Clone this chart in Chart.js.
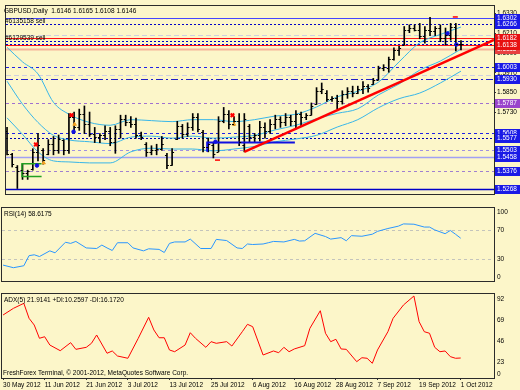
<!DOCTYPE html>
<html>
<head>
<meta charset="utf-8">
<script src="https://cdn.jsdelivr.net/npm/chart.js@4.4.0/dist/chart.umd.min.js"></script>
<style>
html, body { margin: 0; padding: 0; background: #fcf6c9; }
#wrap { position: relative; width: 520px; height: 390px; overflow: hidden; background: #fcf6c9; }
canvas { position: absolute; left: 0; }
</style>
</head>
<body>
<div id="wrap">
  <canvas id="price" width="520" height="208" style="top:0"></canvas>
  <canvas id="rsi" width="520" height="88" style="top:207px"></canvas>
  <canvas id="adx" width="520" height="97" style="top:293px"></canvas>
</div>
<script>
// GBPUSD daily, 30 May - 1 Oct 2012 (bar index 0..88)
const opens = [1.5620,1.5478,1.5400,1.5380,1.5360,1.5385,1.5490,1.5505,1.5480,1.5540,
  1.5500,1.5560,1.5500,1.5700,1.5640,1.5720,1.5660,1.5600,1.5580,1.5590,
  1.5620,1.5550,1.5630,1.5690,1.5670,1.5660,1.5590,1.5540,1.5490,1.5500,
  1.5510,1.5470,1.5410,1.5570,1.5650,1.5600,1.5640,1.5700,1.5610,1.5520,
  1.5530,1.5490,1.5680,1.5720,1.5660,1.5680,1.5530,1.5650,1.5580,1.5590,
  1.5640,1.5620,1.5660,1.5690,1.5670,1.5700,1.5680,1.5720,1.5700,1.5715,
  1.5780,1.5860,1.5850,1.5810,1.5815,1.5800,1.5840,1.5860,1.5850,1.5870,
  1.5890,1.5900,1.5926,1.6000,1.6000,1.6055,1.6110,1.6140,1.6230,1.6240,
  1.6230,1.6190,1.6230,1.6220,1.6240,1.6180,1.6200,1.6250,1.6146];
const highs = [1.5639,1.5482,1.5408,1.5417,1.5380,1.5510,1.5602,1.5510,1.5565,1.5584,
  1.5593,1.5565,1.5723,1.5732,1.5750,1.5769,1.5732,1.5639,1.5602,1.5649,
  1.5639,1.5649,1.5713,1.5713,1.5704,1.5695,1.5611,1.5547,1.5528,1.5537,
  1.5584,1.5482,1.5510,1.5676,1.5657,1.5667,1.5723,1.5723,1.5621,1.5574,
  1.5547,1.5704,1.5760,1.5741,1.5704,1.5723,1.5723,1.5657,1.5602,1.5676,
  1.5667,1.5686,1.5713,1.5704,1.5723,1.5713,1.5741,1.5732,1.5723,1.5787,
  1.5880,1.5908,1.5862,1.5825,1.5834,1.5861,1.5880,1.5889,1.5889,1.5917,
  1.5899,1.5936,1.6010,1.6019,1.6065,1.6121,1.6130,1.6250,1.6260,1.6260,
  1.6269,1.6250,1.6306,1.6250,1.6260,1.6241,1.6269,1.6269,1.6165];
const lows = [1.5473,1.5399,1.5269,1.5324,1.5324,1.5380,1.5436,1.5417,1.5473,1.5473,
  1.5482,1.5473,1.5482,1.5602,1.5621,1.5602,1.5584,1.5547,1.5547,1.5565,
  1.5528,1.5482,1.5574,1.5649,1.5639,1.5574,1.5565,1.5463,1.5473,1.5473,
  1.5500,1.5389,1.5408,1.5565,1.5574,1.5584,1.5621,1.5611,1.5491,1.5491,
  1.5454,1.5491,1.5667,1.5630,1.5649,1.5528,1.5491,1.5547,1.5547,1.5556,
  1.5574,1.5602,1.5630,1.5639,1.5649,1.5649,1.5630,1.5649,1.5686,1.5713,
  1.5778,1.5843,1.5797,1.5797,1.5750,1.5780,1.5815,1.5824,1.5843,1.5843,
  1.5852,1.5899,1.5926,1.5982,1.5973,1.6047,1.6075,1.6139,1.6213,1.6223,
  1.6176,1.6149,1.6195,1.6195,1.6158,1.6139,1.6167,1.6102,1.6108];
const closes = [1.5480,1.5420,1.5372,1.5360,1.5375,1.5490,1.5530,1.5440,1.5540,1.5500,
  1.5570,1.5500,1.5700,1.5640,1.5720,1.5660,1.5600,1.5580,1.5590,1.5620,
  1.5550,1.5630,1.5690,1.5670,1.5660,1.5590,1.5580,1.5490,1.5500,1.5510,
  1.5540,1.5410,1.5490,1.5650,1.5600,1.5640,1.5700,1.5630,1.5520,1.5540,
  1.5480,1.5680,1.5720,1.5660,1.5680,1.5550,1.5690,1.5580,1.5590,1.5640,
  1.5620,1.5660,1.5690,1.5670,1.5700,1.5680,1.5720,1.5700,1.5715,1.5770,
  1.5860,1.5870,1.5810,1.5815,1.5800,1.5840,1.5860,1.5850,1.5870,1.5890,
  1.5880,1.5925,1.6000,1.6005,1.6055,1.6110,1.6120,1.6230,1.6240,1.6230,
  1.6190,1.6230,1.6220,1.6240,1.6180,1.6200,1.6250,1.6146,1.6146];

const dateTickIdx = [0, 8, 16, 24, 32, 40, 48, 56, 64, 72, 80, 88];
const dateLabels = ['30 May 2012', '11 Jun 2012', '21 Jun 2012', '3 Jul 2012', '13 Jul 2012', '25 Jul 2012',
  '6 Aug 2012', '16 Aug 2012', '28 Aug 2012', '7 Sep 2012', '19 Sep 2012', '1 Oct 2012'];
const priceTicks = [1.6330, 1.6210, 1.6090, 1.5970, 1.5850, 1.5730, 1.5610, 1.5490, 1.5370, 1.5250];

// band lines
const bandIdx = [0,3,6,9,12,16,20,24,28,32,36,40,44,48,52,56,60,64,68,72,76,80,84,88];
const bandUpper = [1.6124,1.6036,1.5963,1.5791,1.5719,1.5669,1.5652,1.5686,1.5680,1.5674,1.5686,1.5686,
  1.5674,1.5686,1.5708,1.5719,1.5763,1.5824,1.5858,1.5913,1.6036,1.6152,1.6202,1.6247];
const bandMiddle = [1.5919,1.5780,1.5669,1.5591,1.5563,1.5552,1.5541,1.5580,1.5586,1.5574,1.5586,1.5574,
  1.5580,1.5591,1.5624,1.5652,1.5691,1.5724,1.5752,1.5836,1.5902,1.5986,1.6041,1.6113];
const bandLower = [1.5697,1.5597,1.5491,1.5436,1.5430,1.5424,1.5424,1.5491,1.5513,1.5508,1.5508,1.5497,
  1.5508,1.5524,1.5552,1.5569,1.5591,1.5641,1.5686,1.5758,1.5813,1.5847,1.5908,1.5980];

// drawn objects
const trendIdx = [46, 94.4];
const trendPrice = [1.5491, 1.6169];
const greenIdx = [6.7, 2.9, 2.9, 6.7];
const greenPrice = [1.5419, 1.5419, 1.5341, 1.5341];
const blueSegIdx = [38.8, 38.8, 55.8];
const blueSegPrice = [1.5491, 1.5547, 1.5547];
const redMarkIdx = [5.6, 12.5, 43.7];
const redMarkPrice = [1.5536, 1.5713, 1.5713];
const redDashIdx = [40.8, 86.9];
const redDashPrice = [1.5441, 1.6308];
const orangeMarkIdx = [7.1, 13.1, 44.0];
const orangeMarkPrice = [1.5424, 1.5658, 1.5658];
const blueMarkIdx = [5.8, 12.9, 40.4, 85.4, 87.1];
const blueMarkPrice = [1.5408, 1.5613, 1.5552, 1.6208, 1.6141];

const levelPrices = [1.6302, 1.6266, 1.6200, 1.6182, 1.6162, 1.6145, 1.6138, 1.6115, 1.6003, 1.5955,
  1.5930, 1.5787, 1.5608, 1.5577, 1.5503, 1.5458, 1.5376, 1.5268];
const levelStyles = [
  {c: '#4646ff', w: 1, d: []}, {c: '#0000c8', w: 1, d: [2, 2]}, {c: '#cfcfe0', w: 1, d: [5, 3]},
  {c: '#ff1010', w: 1, d: []}, {c: '#0000c8', w: 1, d: [2, 2]}, {c: '#0000c8', w: 1, d: [2, 2]},
  {c: '#ff1010', w: 1, d: []}, {c: '#f5b49a', w: 2, d: []}, {c: '#2020e6', w: 1, d: [3, 3]},
  {c: '#cfcfe0', w: 1, d: [5, 3]}, {c: '#2020c8', w: 1, d: [7, 3, 2, 3]}, {c: '#a070d0', w: 1, d: [3, 3]},
  {c: '#2020e6', w: 1, d: [3, 3]}, {c: '#0000b4', w: 1, d: [2, 2]}, {c: '#a090e0', w: 1, d: [3, 3]},
  {c: '#a0a0f4', w: 1.5, d: []}, {c: '#a080d0', w: 1, d: [3, 3]}, {c: '#0000c8', w: 1.5, d: []}
];
const boxPrices = [1.6302, 1.6266, 1.6115, 1.6182, 1.6138, 1.6003, 1.5930, 1.5787, 1.5608, 1.5577, 1.5503, 1.5458, 1.5376, 1.5268];
const boxColors = ['#1a1ae6', '#1a1ae6', '#e84040', '#e81010', '#e81010', '#1a1ae6', '#1a1ae6', '#9944cc',
  '#1a1ae6', '#1a1ae6', '#1a1ae6', '#1a1ae6', '#1a1ae6', '#1a1ae6'];
const orderTexts = ['#6135158 sell', '#6129539 sell'];
const orderTextPrices = [1.6266, 1.6162];

const rsiIdx = [0,2,4,5,6,7,9,10,12,13,14,16,18,19,20,21,22,24,25,27,28,30,31,32,33,35,36,38,40,41,
  43,45,46,47,48,50,51,52,54,56,57,58,60,62,63,65,66,67,69,71,72,74,76,77,79,81,82,83,85,86,87,88];
const rsiVals = [21.8,18.2,20.9,34.7,35.9,33.5,41.3,38.6,53.1,51.5,54.2,45.3,44.5,49.2,45.3,41.8,52.4,52.4,45.3,41.3,
  44.1,43.3,39.0,51.5,53.5,53.5,57.4,44.5,44.5,57.0,55.4,45.3,44.5,50.7,50.0,50.7,52.4,54.2,53.5,57.0,
  54.7,55.1,65.3,60.9,57.4,59.4,55.1,62.1,61.3,64.1,68.0,71.9,75.1,78.2,77.8,73.9,73.9,70.0,64.8,69.2,64.1,58.6];
const rsiLevels = [70, 30];
const rsiScale = [100, 70, 30, 0];

const adxIdx = [0,2,4,5,6,7,8,9,11,13,14,16,17,18,20,21,22,24,26,28,29,30,31,32,33,35,36,37,39,40,
  41,43,44,46,47,48,50,52,53,54,55,56,58,59,61,62,63,64,65,66,68,69,70,71,72,74,75,77,79,80,
  81,82,83,84,85,86,87,88];
const adxVals = [69.0,76.3,81.8,65.4,58.0,43.5,45.2,36.1,29.9,38.7,31.4,33.6,38.0,47.1,27.1,29.6,24.1,21.6,43.5,66.5,
  52.6,44.1,44.1,30.7,28.8,36.1,49.6,43.5,33.6,39.8,38.0,39.8,35.0,50.7,58.8,56.2,25.2,29.6,27.7,33.6,
  28.8,31.8,35.4,54.4,73.7,49.0,39.8,42.4,31.8,31.4,17.9,22.2,21.6,16.1,30.7,50.7,65.4,80.0,89.8,61.7,
  50.7,49.0,33.6,28.8,29.6,23.4,21.6,21.9];
const adxScale = [92, 69, 46, 23, 0];

const FONT = '6.5px "Liberation Sans", Arial, sans-serif';
Chart.defaults.font.family = '"Liberation Sans", Arial, sans-serif';
Chart.defaults.font.size = 6.5;
Chart.defaults.color = '#000';
Chart.defaults.animation = false;
Chart.defaults.events = [];
Chart.defaults.plugins.legend.display = false;
Chart.defaults.plugins.tooltip.enabled = false;

const pts = (xs, ys) => xs.map((x, k) => ({x: x, y: ys[k]}));

function xAxis(show) {
  return {
    type: 'linear', min: -0.2, max: 94.4, display: show, offset: false,
    afterBuildTicks: s => { s.ticks = dateTickIdx.map(v => ({value: v})); },
    afterFit: s => { s.height = 12; },
    grid: {drawOnChartArea: false, tickLength: 2, color: '#333'},
    border: {display: false},
    ticks: {align: 'start', maxRotation: 0, autoSkip: false, padding: 1, callback: (v, i) => dateLabels[i]}
  };
}

function frame(ctx, a) {
  ctx.save();
  ctx.strokeStyle = '#2b2b2b';
  ctx.lineWidth = 1;
  ctx.setLineDash([]);
  ctx.strokeRect(a.left - 0.5, a.top - 0.5, a.right - a.left + 1, a.bottom - a.top + 1);
  ctx.restore();
}

function lineSet(xs, ys, color, width, extra) {
  return Object.assign({data: pts(xs, ys), borderColor: color, borderWidth: width, pointRadius: 0, tension: 0, fill: false}, extra || {});
}

const mainDecor = {
  id: 'mainDecor',
  beforeDatasetsDraw(chart) {
    const {ctx, chartArea: a, scales: {y}} = chart;
    ctx.save();
    levelPrices.forEach((p, k) => {
      const st = levelStyles[k];
      const py = Math.round(y.getPixelForValue(p)) + 0.5;
      ctx.strokeStyle = st.c;
      ctx.lineWidth = st.w;
      ctx.setLineDash(st.d);
      ctx.beginPath();
      ctx.moveTo(a.left, py);
      ctx.lineTo(a.right, py);
      ctx.stroke();
    });
    ctx.restore();
  },
  afterDatasetsDraw(chart) {
    // open / close ticks of the bars
    const {ctx, scales: {x, y}} = chart;
    ctx.save();
    ctx.strokeStyle = '#000';
    ctx.lineWidth = 1;
    ctx.beginPath();
    opens.forEach((o, i) => {
      const px = x.getPixelForValue(i);
      const yo = Math.round(y.getPixelForValue(o)) + 0.5;
      const yc = Math.round(y.getPixelForValue(closes[i])) + 0.5;
      ctx.moveTo(px - 2, yo); ctx.lineTo(px, yo);
      ctx.moveTo(px, yc); ctx.lineTo(px + 2, yc);
    });
    ctx.stroke();
    ctx.restore();
  },
  afterDraw(chart) {
    const {ctx, chartArea: a, scales: {y}} = chart;
    frame(ctx, a);
    ctx.save();
    ctx.font = FONT;
    ctx.fillStyle = '#000';
    ctx.textBaseline = 'middle';
    ctx.fillText('GBPUSD,Daily  1.6146 1.6165 1.6108 1.6146', 4, a.top + 5);
    ctx.textBaseline = 'bottom';
    orderTexts.forEach((t, k) => ctx.fillText(t, 5, Math.round(y.getPixelForValue(orderTextPrices[k]))));
    ctx.textBaseline = 'middle';
    boxPrices.forEach((p, k) => {
      const py = Math.round(y.getPixelForValue(p));
      ctx.fillStyle = boxColors[k];
      ctx.fillRect(a.right + 1, py - 4, chart.width - a.right - 1, 9);
      ctx.fillStyle = '#fff';
      ctx.fillText(p.toFixed(4), a.right + 3, py + 0.5);
    });
    ctx.restore();
  }
};

function paneDecor(title, levels, scaleVals, labelShift, footer) {
  return {
    id: 'paneDecor',
    beforeDatasetsDraw(chart) {
      const {ctx, chartArea: a, scales: {y}} = chart;
      ctx.save();
      ctx.strokeStyle = '#c4c4bc';
      ctx.lineWidth = 1;
      ctx.setLineDash([3, 3]);
      levels.forEach(v => {
        const py = Math.round(y.getPixelForValue(v)) + 0.5;
        ctx.beginPath(); ctx.moveTo(a.left, py); ctx.lineTo(a.right, py); ctx.stroke();
      });
      ctx.restore();
    },
    afterDraw(chart) {
      const {ctx, chartArea: a, scales: {y}} = chart;
      frame(ctx, a);
      ctx.save();
      ctx.font = FONT;
      ctx.fillStyle = '#000';
      ctx.textBaseline = 'middle';
      ctx.fillText(title, 4, a.top + 6);
      if (footer) ctx.fillText(footer, 3, a.bottom - 5);
      scaleVals.forEach(v => {
        let py = y.getPixelForValue(v) + labelShift;
        py = Math.min(Math.max(py, a.top + 4), a.bottom - 4);
        ctx.fillText(String(v), a.right + 3, py);
      });
      ctx.restore();
    }
  };
}

const cyan = '#38b6e8';
new Chart(document.getElementById('price'), {
  type: 'line',
  data: {
    datasets: [
      lineSet(bandIdx, bandUpper, cyan, 1, {cubicInterpolationMode: 'monotone', order: 4}),
      lineSet(bandIdx, bandMiddle, cyan, 1, {cubicInterpolationMode: 'monotone', order: 4}),
      lineSet(bandIdx, bandLower, cyan, 1, {cubicInterpolationMode: 'monotone', order: 4}),
      {type: 'bar', data: highs.map((h, i) => ({x: i, y: [lows[i], h]})), backgroundColor: '#000',
        barThickness: 1, order: 3},
      lineSet(trendIdx, trendPrice, '#ff0000', 2.5, {order: 1}),
      lineSet(greenIdx, greenPrice, '#22a022', 1.5, {order: 1}),
      lineSet(blueSegIdx, blueSegPrice, '#1010e0', 2, {order: 1}),
      {type: 'scatter', data: pts(redMarkIdx, redMarkPrice), pointStyle: 'crossRot', pointRadius: 2.5,
        borderColor: '#ff0000', borderWidth: 2, order: 0},
      {type: 'scatter', data: pts(redDashIdx, redDashPrice), pointStyle: 'line', pointRadius: 2.5,
        borderColor: '#ff0000', borderWidth: 1.5, order: 0},
      {type: 'scatter', data: pts(orangeMarkIdx, orangeMarkPrice), pointStyle: 'triangle', pointRadius: 2,
        backgroundColor: '#f0a020', borderColor: '#f0a020', borderWidth: 1, order: 0},
      {type: 'scatter', data: pts(blueMarkIdx, blueMarkPrice), pointStyle: 'circle', pointRadius: 1.8,
        backgroundColor: '#1010e0', borderColor: '#1010e0', borderWidth: 1, order: 0}
    ]
  },
  options: {
    responsive: false,
    layout: {padding: {left: 2, top: 1, bottom: 2, right: 0}},
    scales: {
      x: xAxis(false),
      y: {
        position: 'right', min: 1.52356, max: 1.63744,
        afterBuildTicks: s => { s.ticks = priceTicks.map(v => ({value: v})); },
        afterFit: s => { s.width = 26; },
        grid: {drawOnChartArea: false, tickLength: 2, color: '#333'},
        border: {display: false},
        ticks: {padding: 1, callback: v => v.toFixed(4)}
      }
    }
  },
  plugins: [mainDecor]
});

new Chart(document.getElementById('rsi'), {
  type: 'line',
  data: {datasets: [lineSet(rsiIdx, rsiVals, '#2a96ff', 1)]},
  options: {
    responsive: false,
    layout: {padding: {left: 2, top: 1, bottom: 2, right: 26}},
    scales: {x: xAxis(false), y: {display: false, min: 0, max: 100}}
  },
  plugins: [paneDecor('RSI(14) 58.6175', rsiLevels, rsiScale, 0)]
});

new Chart(document.getElementById('adx'), {
  type: 'line',
  data: {datasets: [lineSet(adxIdx, adxVals, '#ff0000', 1)]},
  options: {
    responsive: false,
    layout: {padding: {left: 2, top: 1, bottom: 0, right: 26}},
    scales: {x: xAxis(true), y: {display: false, min: 0, max: 92}}
  },
  plugins: [paneDecor('ADX(5) 21.9141 +DI:10.2597 -DI:16.1720', [], adxScale, 5.5,
    'FreshForex Terminal, \u00a9 2001-2012, MetaQuotes Software Corp.')]
});
</script>
</body>
</html>
